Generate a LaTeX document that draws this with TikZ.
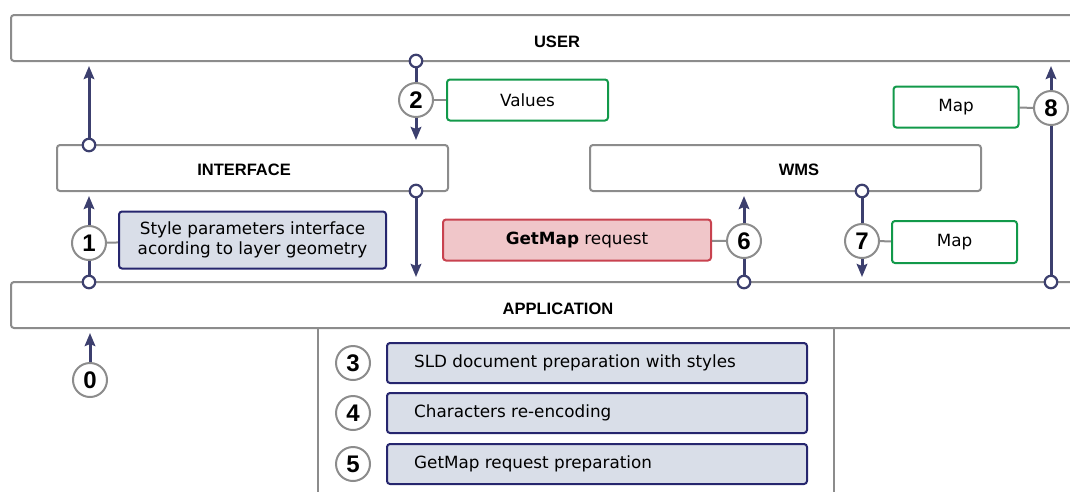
\documentclass[tikz,border=0pt]{standalone}
\usepackage{fontspec}
\setmainfont{DejaVu Sans}
\newfontfamily\labfont{Liberation Sans}
\usetikzlibrary{arrows.meta}
\pgfdeclarelayer{bg}
\pgfsetlayers{bg,main}
\definecolor{navy}{HTML}{3C3F6E}
\definecolor{boxgray}{HTML}{8C8C8C}
\definecolor{bluefill}{HTML}{D9DEE8}
\definecolor{blueline}{HTML}{26266E}
\definecolor{grn}{HTML}{12994A}
\definecolor{redline}{HTML}{C8424F}
\definecolor{redfill}{HTML}{F0C6C9}
\begin{document}
\begin{tikzpicture}[x=1pt,y=-1pt,
  layer/.style={draw=boxgray,line width=2pt,rounded corners=3pt,fill=white,inner sep=0pt},
  layertext/.style={font=\labfont\fontsize{16.5}{19}\selectfont\bfseries,inner sep=0pt},
  dot/.style={circle,draw=navy,line width=2.2pt,fill=white,minimum size=12.5pt,inner sep=0pt},
  num/.style={circle,draw=boxgray,line width=2pt,fill=white,minimum size=34pt,inner sep=0pt,font=\labfont\fontsize{24}{26}\selectfont\bfseries},
  arr/.style={navy,line width=3pt,-{Stealth[length=13pt,width=10.5pt,inset=2pt]},shorten >=4pt},
  link/.style={boxgray,line width=2pt},
  bluebox/.style={draw=blueline,fill=bluefill,line width=2pt,rounded corners=3pt,inner sep=0pt,font=\fontsize{16.8}{19.5}\selectfont},
  greenbox/.style={draw=grn,fill=white,line width=2pt,rounded corners=3pt,inner sep=0pt,font=\fontsize{16.8}{19.5}\selectfont},
  redbox/.style={draw=redline,fill=redfill,line width=2pt,rounded corners=3pt,inner sep=0pt,font=\fontsize{16.8}{19.5}\selectfont},
  steptext/.style={font=\fontsize{16.8}{19.5}\selectfont,inner sep=0pt,anchor=west}
]
\clip (0,0) rectangle (1070,491);

% panel lines
\draw[boxgray,line width=2pt] (318,328) -- (318,495);
\draw[boxgray,line width=2pt] (834,328) -- (834,495);

% layers
\node[layer,minimum width=1074pt,minimum height=46pt] (user) at (548,38) {};
\node[layertext] at (557,42) {USER};
\node[layer,minimum width=391pt,minimum height=46pt] (iface) at (252.5,168) {};
\node[layertext] at (244,170) {INTERFACE};
\node[layer,minimum width=391pt,minimum height=46pt] (wms) at (785.5,168) {};
\node[layertext] at (799,170) {WMS};
\node[layer,minimum width=1074pt,minimum height=46pt] (app) at (548,305) {};
\node[layertext] at (558,309) {APPLICATION};

% connection dots
\node[dot] (d1) at (89,145) {};
\node[dot] (d2) at (416,61) {};
\node[dot] (d3) at (89,282) {};
\node[dot] (d4) at (416,191) {};
\node[dot] (d5) at (744,282) {};
\node[dot] (d6) at (862,191) {};
\node[dot] (d7) at (1051,282) {};

% numbered circles
\node[num] (n0) at (90,380) {0};
\node[num] (n1) at (89,243) {1};
\node[num] (n2) at (416,100) {2};
\node[num] (n3) at (353,363) {3};
\node[num] (n4) at (353,413) {4};
\node[num] (n5) at (353,464) {5};
\node[num] (n6) at (744,241) {6};
\node[num] (n7) at (862,241) {7};
\node[num] (n8) at (1051,108) {8};

% label boxes
\node[greenbox,minimum width=161pt,minimum height=41pt] (values) at (527.5,100) {Values};
\node[greenbox,minimum width=125pt,minimum height=41pt] (map1) at (956,107) {Map};
\node[greenbox,minimum width=125pt,minimum height=42pt] (map2) at (954.5,242) {Map};
\node[bluebox,minimum width=267pt,minimum height=57pt,align=center] (style) at (252.5,240)
  {Style parameters interface\\acording to layer geometry};
\node[redbox,minimum width=268pt,minimum height=41pt] (getmap) at (577,240) {\textbf{GetMap} request};
\node[bluebox,minimum width=420pt,minimum height=40pt] (b3) at (597,363) {};
\node[steptext] at (b3.west) [xshift=28pt] {SLD document preparation with styles};
\node[bluebox,minimum width=420pt,minimum height=40pt] (b4) at (597,413) {};
\node[steptext] at (b4.west) [xshift=28pt] {Characters re-encoding};
\node[bluebox,minimum width=420pt,minimum height=40pt] (b5) at (597,464) {};
\node[steptext] at (b5.west) [xshift=28pt] {GetMap request preparation};

\begin{pgfonlayer}{bg}
\draw[arr] (d1) -- (d1 |- user.south);
\draw[arr] (d2) -- (d2 |- iface.north);
\draw[arr] (d3) -- (d3 |- iface.south);
\draw[arr] (d4) -- (d4 |- app.north);
\draw[arr] (d5) -- (d5 |- wms.south);
\draw[arr] (d6) -- (d6 |- app.north);
\draw[arr] (d7) -- (d7 |- user.south);
\draw[arr] (n0) -- (n0 |- app.south);
\draw[link] (n1) -- (style);
\draw[link] (n2) -- (values);
\draw[link] (n6) -- (getmap);
\draw[link] (n7) -- (map2);
\draw[link] (n8) -- (map1);
\end{pgfonlayer}
\end{tikzpicture}
\end{document}
